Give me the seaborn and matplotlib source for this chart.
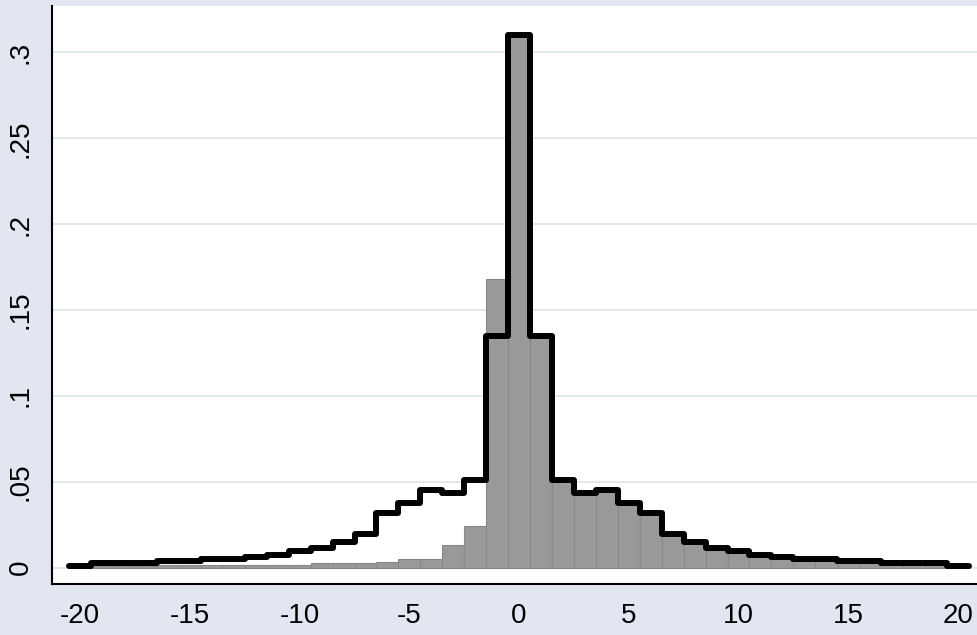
import pandas as pd
import matplotlib
matplotlib.use("Agg")
import matplotlib.pyplot as plt
import seaborn as sns

# bin centres (width 1) and bar heights
centers = list(range(-20, 21))

black_left = [0.0012, 0.0026, 0.0026, 0.0026, 0.0037, 0.0037, 0.0049, 0.0049,
              0.0064, 0.0076, 0.0099, 0.0113, 0.0148, 0.0194, 0.0316, 0.0374,
              0.0452, 0.0436, 0.051, 0.135]
black_mid = [0.31]
black_right = [0.135, 0.051, 0.0436, 0.0452, 0.0374, 0.0316, 0.0194, 0.0148,
               0.0113, 0.0099, 0.0076, 0.0064, 0.0049, 0.0049, 0.0037, 0.0037,
               0.0026, 0.0026, 0.0026, 0.0012]
black_heights = black_left + black_mid + black_right

gray_left = [0.0007, 0.0007, 0.0007, 0.0007,
             0.0013, 0.0013, 0.0013, 0.0013, 0.0013, 0.0013, 0.0013,
             0.0026, 0.0026, 0.0026, 0.0035, 0.0049, 0.0049,
             0.0134, 0.0243, 0.168]
gray_mid = [0.31]
gray_right = list(black_right)
gray_heights = gray_left + gray_mid + gray_right

ytick_vals = [0, 0.05, 0.1, 0.15, 0.2, 0.25, 0.3]
ytick_labels = ["0", ".05", ".1", ".15", ".2", ".25", ".3"]
xtick_vals = [-20, -15, -10, -5, 0, 5, 10, 15, 20]

df = pd.DataFrame({"center": centers, "gray": gray_heights, "black": black_heights})
n_bins = len(centers)
bin_range = (centers[0] - 0.5, centers[-1] + 0.5)

sns.set_theme(style="white")
plt.rcParams["font.family"] = ["Liberation Sans", "DejaVu Sans"]

bg = "#E1E6F0"
fig = plt.figure(figsize=(9.77, 6.35), dpi=100, facecolor=bg)
ax = fig.add_axes([52 / 977, (635 - 584) / 635, (977 - 52) / 977, (584 - 6) / 635])
ax.set_facecolor("white")

# gray histogram
sns.histplot(data=df, x="center", weights="gray", bins=n_bins, binrange=bin_range,
             stat="count", color="#999999", edgecolor="#888888", linewidth=0.8,
             alpha=1, ax=ax, zorder=2)

# black outline histogram
sns.histplot(data=df, x="center", weights="black", bins=n_bins, binrange=bin_range,
             stat="count", element="step", fill=False, color="black", linewidth=4.3,
             solid_capstyle="round", solid_joinstyle="round", ax=ax, zorder=3)

ax.set_xlim(-21.29, 20.87)
ax.set_ylim(-0.0095, 0.327)
ax.set_xticks(xtick_vals)
ax.set_xticklabels([str(v) for v in xtick_vals])
ax.set_yticks(ytick_vals)
ax.set_yticklabels(ytick_labels, rotation=90, va="center")
ax.set_xlabel("")
ax.set_ylabel("")

ax.grid(axis="y", color="#DFE5EF", linewidth=1.3)
ax.grid(axis="x", visible=False)
ax.set_axisbelow(True)

for side in ["top", "right"]:
    ax.spines[side].set_visible(False)
for side in ["left", "bottom"]:
    ax.spines[side].set_color("black")
    ax.spines[side].set_linewidth(1.5)

ax.tick_params(axis="both", which="major", direction="out", length=8, width=1.1,
               color="black", labelsize=20, labelcolor="black")
ax.tick_params(axis="x", pad=6)
ax.tick_params(axis="y", pad=5)

fig.savefig("out.png", dpi=100, facecolor=bg)
